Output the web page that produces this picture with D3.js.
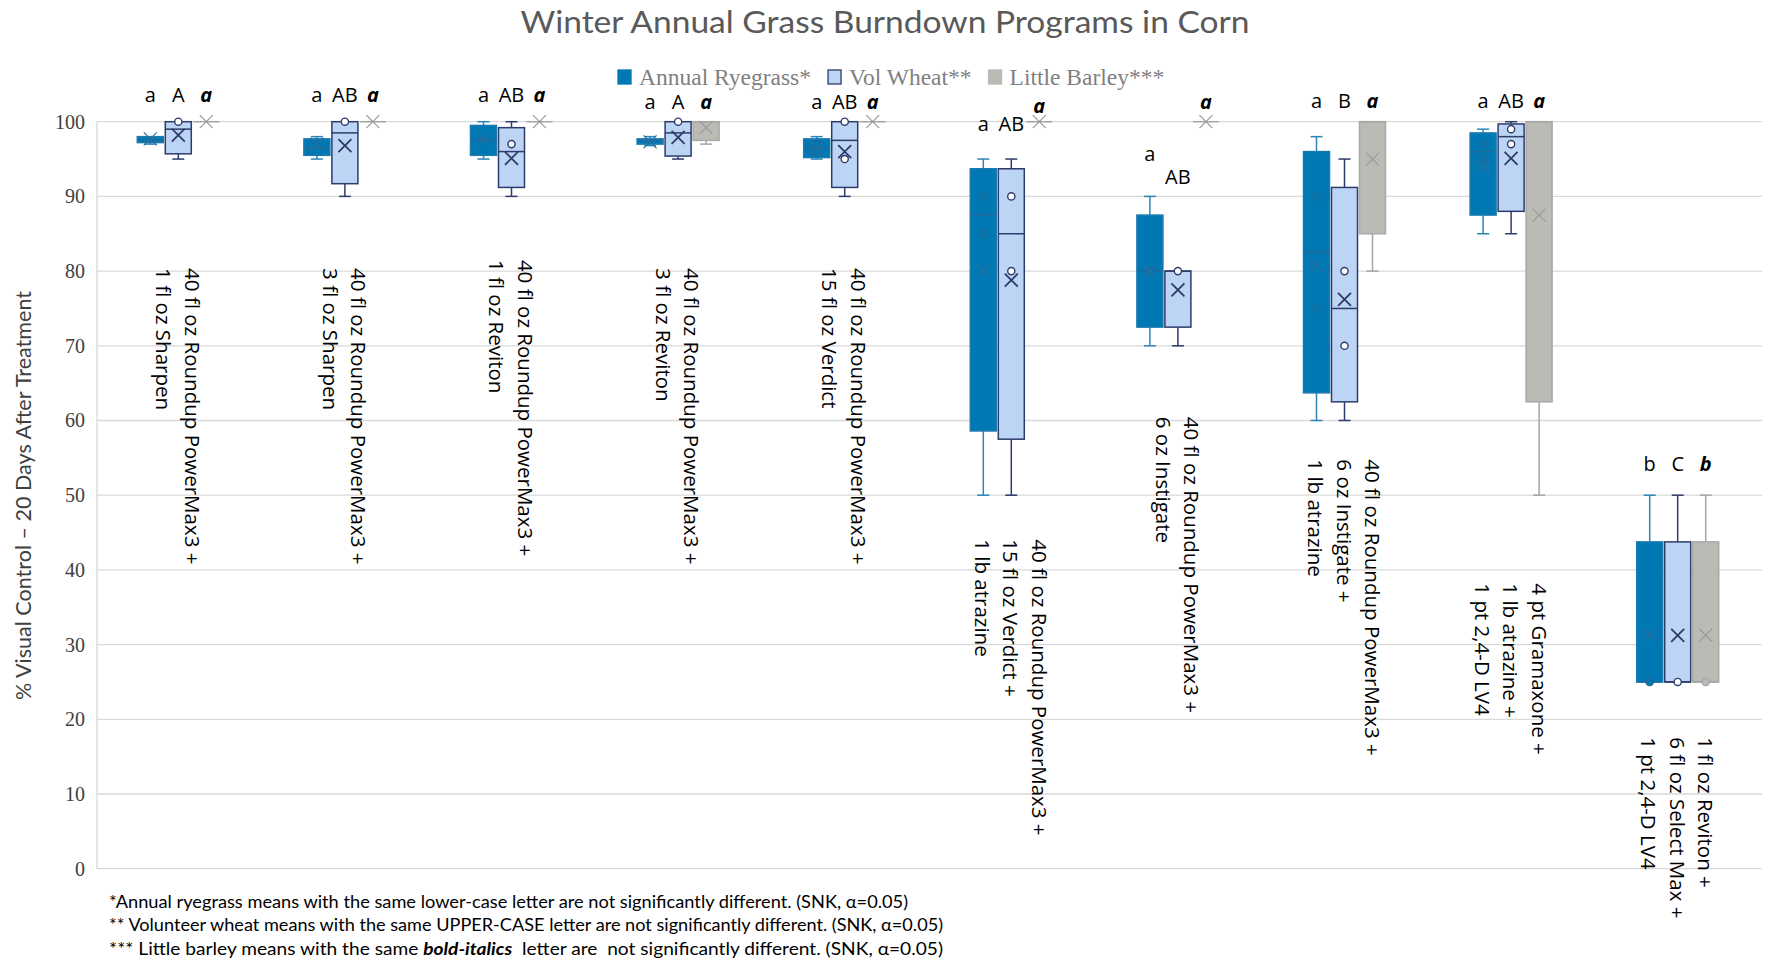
<!DOCTYPE html>
<html><head><meta charset="utf-8">
<script src="https://cdn.jsdelivr.net/npm/d3@7"></script>
<style>body{margin:0;background:#fff}svg{display:block}</style>
</head><body><div id="chart"></div>
<script>
// ---------- DATA ----------
const categories = [
  ["40 fl oz Roundup PowerMax3 +", "1 fl oz Sharpen"],
  ["40 fl oz Roundup PowerMax3 +", "3 fl oz Sharpen"],
  ["40 fl oz Roundup PowerMax3 +", "1 fl oz Reviton"],
  ["40 fl oz Roundup PowerMax3 +", "3 fl oz Reviton"],
  ["40 fl oz Roundup PowerMax3 +", "15 fl oz Verdict"],
  ["40 fl oz Roundup PowerMax3 +", "15 fl oz Verdict +", "1 lb atrazine"],
  ["40 fl oz Roundup PowerMax3 +", "6 oz Instigate"],
  ["40 fl oz Roundup PowerMax3 +", "6 oz Instigate +", "1 lb atrazine"],
  ["4 pt Gramaxone +", "1 lb atrazine +", "1 pt 2,4-D LV4"],
  ["1 fl oz Reviton +", "6 fl oz Select Max +", "1 pt 2,4-D LV4"]
];
const seriesNames = ["Annual Ryegrass*", "Vol Wheat**", "Little Barley***"];

// five-number summaries [min, q1, median, q3, max]
const ryegrassBox = [[97,97.2,97.5,98,98],[95,95.5,96.5,97.7,98],[95,95.5,97.5,99.5,100],[96.8,97,97.5,97.7,98],[95,95.2,96.5,97.7,98],
  [50,58.6,87.5,93.7,95],[70,72.5,80,87.5,90],[60,63.7,82.5,96,98],[85,87.5,96,98.5,99],[25,25,25,43.75,50]];
const ryegrassMean = [97.7,97,97.7,97.3,96.5,80,80,80.8,94,31.25];
const ryegrassPoints = [[],[],[],[],[96,97],[90,85],[80],[90,75],[97,95],[25]];

const wheatBox = [[95,95.7,99,100,100],[90,91.7,98.5,100,100],[90,91.2,96,99.2,100],[95,95.4,98.5,100,100],[90,91.2,97.5,100,100],
  [50,57.5,85,93.7,95],[70,72.5,80,80,80],[60,62.5,75,91.2,95],[85,88,98,99.7,100],[25,25,25,43.75,50]];
const wheatMean = [98.2,96.8,95.1,97.9,96,78.8,77.5,76.2,95.1,31.25];
const wheatPoints = [[100],[100],[97],[100],[100,95],[90,80],[80],[80,70],[99,97],[25]];

const barleyBox = [[100,100,100,100,100],[100,100,100,100,100],[100,100,100,100,100],[97,97.5,100,100,100],[100,100,100,100,100],
  [100,100,100,100,100],[100,100,100,100,100],[80,85,100,100,100],[50,62.5,100,100,100],[25,25,25,43.75,50]];
const barleyMean = [100,100,100,99.2,100,100,100,95,87.5,31.25];
const barleyPoints = [[],[],[],[],[],[],[],[],[],[25]];

// mean-separation letters and the value level where each is written
const ryegrassLetters = ["a","a","a","a","a","a","a","a","a","b"];
const wheatLetters = ["A","AB","AB","A","AB","AB","AB","B","AB","C"];
const barleyLetters = ["a","a","a","a","a","a","a","a","a","b"];
const ryegrassLetterAt = [103.6,103.6,103.6,102.7,102.7,99.8,95.7,102.8,102.8,54.3];
const wheatLetterAt = [103.6,103.6,103.6,102.7,102.7,99.8,92.7,102.8,102.8,54.3];
const barleyLetterAt = [103.6,103.6,103.6,102.7,102.7,102.2,102.7,102.8,102.8,54.3];
// value level where each category label starts
const labelTopAt = [80.4,80.4,81.5,80.4,80.4,44.1,60.5,54.8,38.2,17.6];

const yTicks = [0,10,20,30,40,50,60,70,80,90,100];
const footnotes = [
  [["*Annual ryegrass means with the same lower-case letter are not significantly different. (SNK, α=0.05)", false]],
  [["** Volunteer wheat means with the same UPPER-CASE letter are not significantly different. (SNK, α=0.05)", false]],
  [["*** Little barley means with the same ", false], ["bold-italics", true], ["  letter are  not significantly different. (SNK, α=0.05)", false]]
];

// ---------- STYLE ----------
const styles = [
  {fill:"#0078B4", stroke:"#1B7AB0", whisker:"#2A86B8", median:"#1F6A98", mean:"#2D6E9A", ptFill:"#0078B4", ptStroke:"#1F6A98", meanW:1.2},
  {fill:"#BDD5F5", stroke:"#2E3B6B", whisker:"#2E3B6B", median:"#2E3B6B", mean:"#2E3B6B", ptFill:"#FFFFFF", ptStroke:"#2E3B6B", meanW:1.8},
  {fill:"#BBBBB5", stroke:"#A8A8A4", whisker:"#A5A5A5", median:"#A5A5A5", mean:"#9A9A9A", ptFill:"#BBBBB5", ptStroke:"#A5A5A5", meanW:1.2}
];
const series = [
  {box:ryegrassBox, mean:ryegrassMean, pts:ryegrassPoints, letters:ryegrassLetters, letterAt:ryegrassLetterAt, italic:false},
  {box:wheatBox, mean:wheatMean, pts:wheatPoints, letters:wheatLetters, letterAt:wheatLetterAt, italic:false},
  {box:barleyBox, mean:barleyMean, pts:barleyPoints, letters:barleyLetters, letterAt:barleyLetterAt, italic:true}
];

const W = 1769, H = 959;
const svg = d3.select("#chart").append("svg").attr("width", W).attr("height", H);

const x = d3.scaleBand().domain(d3.range(categories.length)).range([95, 1761]);
const sx = d3.scaleBand().domain(d3.range(seriesNames.length)).range([-42, 42]);
const y = d3.scaleLinear().domain([0, 100]).range([868.7, 121.7]);
const boxW = 26, capW = 12;
const cxOf = (i, s) => x(i) + x.bandwidth() / 2 + sx(s) + sx.bandwidth() / 2;

// title
svg.append("text").attr("x", 885).attr("y", 33).attr("text-anchor", "middle")
  .attr("font-family", "Lato, 'Open Sans', sans-serif").attr("font-size", 31).attr("fill", "#595959")
  .attr("textLength", 729).attr("lengthAdjust", "spacingAndGlyphs")
  .text("Winter Annual Grass Burndown Programs in Corn");

// gridlines
svg.append("g").selectAll("line").data(yTicks).join("line")
  .attr("x1", 97).attr("x2", 1762).attr("y1", d => y(d)).attr("y2", d => y(d))
  .attr("stroke", "#D9D9D9").attr("stroke-width", 1.3);
svg.append("line").attr("x1", 97).attr("x2", 97).attr("y1", y(0)).attr("y2", y(100))
  .attr("stroke", "#D9D9D9").attr("stroke-width", 1.3);

// y axis
const yAxis = svg.append("g").attr("transform", "translate(97,0)")
  .call(d3.axisLeft(y).tickValues(yTicks).tickSize(0).tickPadding(12));
yAxis.select(".domain").remove();
yAxis.selectAll("text").attr("font-family", "'Liberation Serif', 'DejaVu Serif', serif")
  .attr("font-size", 20).attr("fill", "#404040");

// y title
svg.append("text").attr("transform", `translate(22,${(291 + 700) / 2}) rotate(-90)`)
  .attr("text-anchor", "middle").attr("dominant-baseline", "central")
  .attr("font-family", "Lato, 'Open Sans', sans-serif").attr("font-size", 21).attr("fill", "#404040")
  .attr("textLength", 409).attr("lengthAdjust", "spacingAndGlyphs")
  .text("% Visual Control – 20 Days After Treatment");

// category labels
const labG = svg.append("g");
categories.forEach((lines, i) => {
  const g = labG.append("g")
    .attr("transform", `translate(${x(i) + x.bandwidth() / 2},${y(labelTopAt[i])}) rotate(90)`);
  g.selectAll("text").data(lines).join("text")
    .attr("x", 0).attr("y", (d, k) => (k - (lines.length - 1) / 2) * 28.5)
    .attr("dominant-baseline", "central").attr("text-anchor", "start")
    .attr("font-family", "'Open Sans', 'Noto Sans', sans-serif").attr("font-size", 20.5).attr("fill", "#000")
    .text(d => d);
});

// boxes
series.forEach((S, s) => {
  const st = styles[s];
  const g = svg.append("g");
  S.box.forEach((b, i) => {
    const cx = cxOf(i, s);
    const [mn, q1, md, q3, mx] = b;
    // whiskers
    g.append("line").attr("x1", cx).attr("x2", cx).attr("y1", y(mx)).attr("y2", y(q3)).attr("stroke", st.whisker).attr("stroke-width", 1.5);
    g.append("line").attr("x1", cx).attr("x2", cx).attr("y1", y(q1)).attr("y2", y(mn)).attr("stroke", st.whisker).attr("stroke-width", 1.5);
    if (mx > q3) g.append("line").attr("x1", cx - capW / 2).attr("x2", cx + capW / 2).attr("y1", y(mx)).attr("y2", y(mx)).attr("stroke", st.whisker).attr("stroke-width", 1.5);
    if (mn < q1) g.append("line").attr("x1", cx - capW / 2).attr("x2", cx + capW / 2).attr("y1", y(mn)).attr("y2", y(mn)).attr("stroke", st.whisker).attr("stroke-width", 1.5);
    // box
    g.append("rect").attr("x", cx - boxW / 2).attr("width", boxW)
      .attr("y", y(q3)).attr("height", Math.max(0, y(q1) - y(q3)))
      .attr("fill", st.fill).attr("stroke", st.stroke).attr("stroke-width", 1.5);
    // median
    g.append("line").attr("x1", cx - boxW / 2).attr("x2", cx + boxW / 2).attr("y1", y(md)).attr("y2", y(md))
      .attr("stroke", st.median).attr("stroke-width", 1.5);
    // points
    S.pts[i].forEach(p => {
      g.append("circle").attr("cx", cx).attr("cy", y(p)).attr("r", 3.6)
        .attr("fill", st.ptFill).attr("stroke", st.ptStroke).attr("stroke-width", 1.4);
    });
    // mean
    const m = y(S.mean[i]), r = 6.5;
    g.append("path").attr("d", `M${cx - r},${m - r}L${cx + r},${m + r}M${cx - r},${m + r}L${cx + r},${m - r}`)
      .attr("stroke", st.mean).attr("stroke-width", st.meanW).attr("fill", "none");
    // letter
    g.append("text").attr("x", cx).attr("y", y(S.letterAt[i])).attr("text-anchor", "middle")
      .attr("dominant-baseline", "central")
      .attr("font-family", "'Open Sans', 'Noto Sans', sans-serif").attr("font-size", 20).attr("fill", "#000")
      .attr("font-weight", S.italic ? "bold" : "normal").attr("font-style", S.italic ? "italic" : "normal")
      .text(S.letters[i]);
  });
});

// legend
const leg = svg.append("g").attr("transform", "translate(618,77)");
let lx = 0;
seriesNames.forEach((n, s) => {
  const st = styles[s];
  leg.append("rect").attr("x", lx).attr("y", -7).attr("width", 13).attr("height", 14)
    .attr("fill", st.fill).attr("stroke", s === 1 ? st.stroke : st.fill).attr("stroke-width", 1.3);
  const t = leg.append("text").attr("x", lx + 21).attr("y", 0).attr("dominant-baseline", "central")
    .attr("font-family", "'Liberation Serif', 'DejaVu Serif', serif").attr("font-size", 23.5).attr("fill", "#7F7F7F")
    .text(n);
  lx += 21 + t.node().getComputedTextLength() + 17;
});

// footnotes
const fnY = [901, 924, 948];
footnotes.forEach((parts, k) => {
  const t = svg.append("text").attr("x", 109).attr("y", fnY[k]).attr("dominant-baseline", "central")
    .attr("font-family", "Lato, 'Open Sans', sans-serif").attr("font-size", 17).attr("fill", "#000")
    .attr("textLength", k === 0 ? 799 : 834).attr("lengthAdjust", "spacingAndGlyphs");
  parts.forEach(([txt, bi]) => {
    t.append("tspan").attr("font-weight", bi ? "bold" : "normal").attr("font-style", bi ? "italic" : "normal")
      .attr("xml:space", "preserve").text(txt);
  });
});
</script></body></html>
